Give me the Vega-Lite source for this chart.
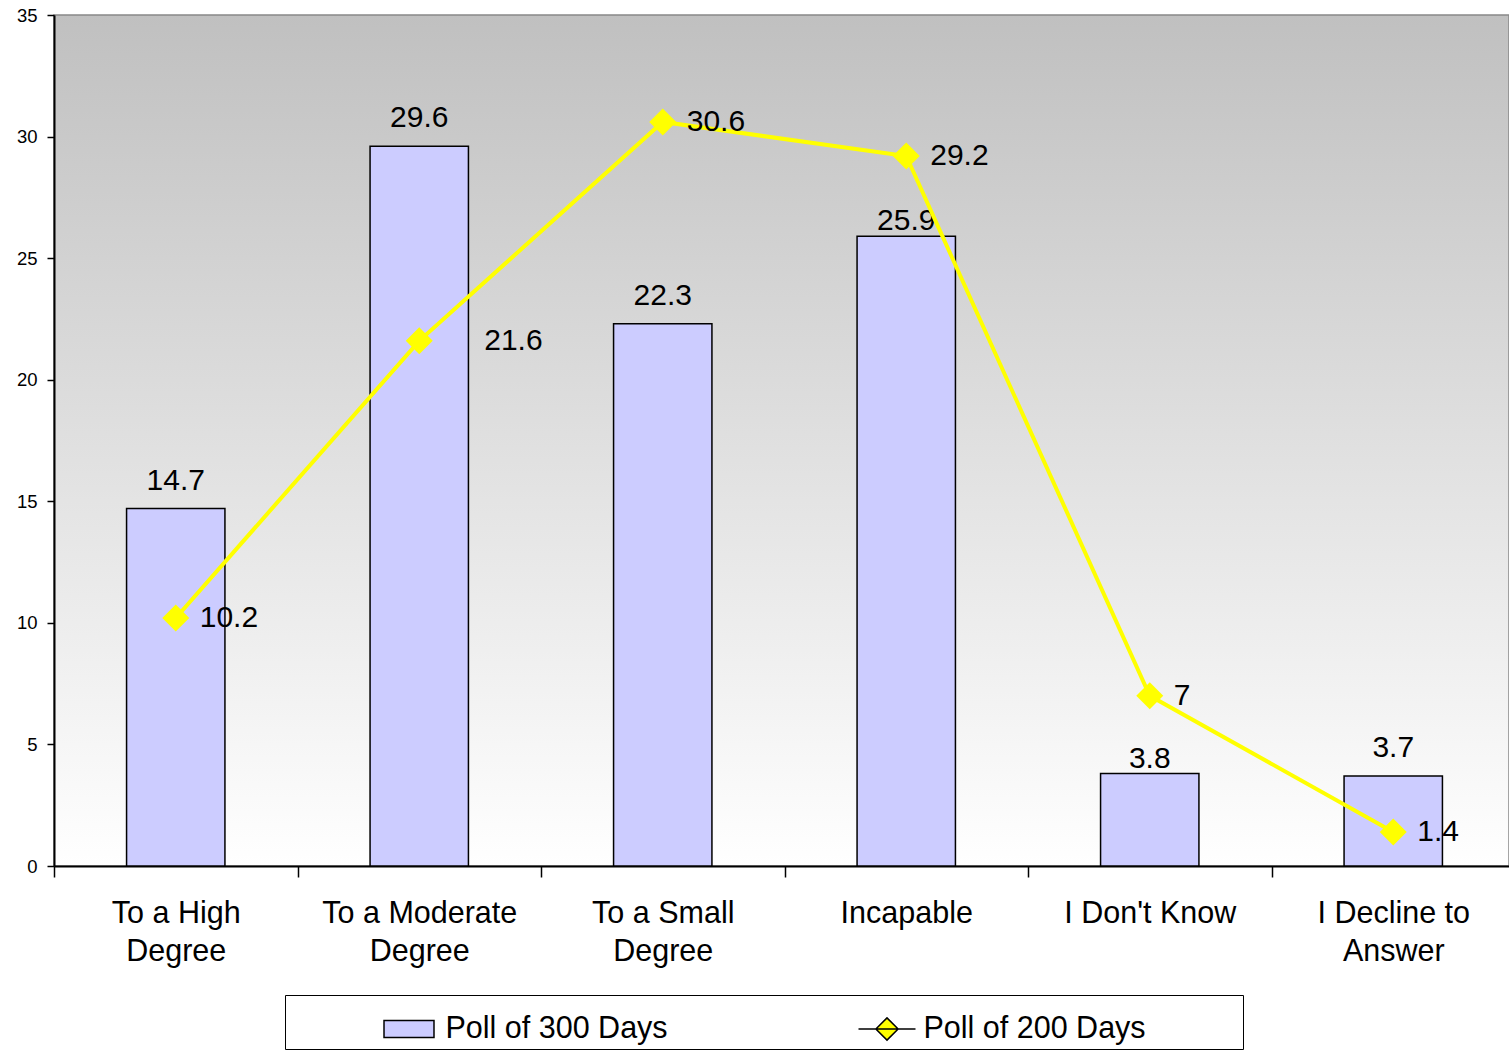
{
  "$schema": "https://vega.github.io/schema/vega-lite/v6.json",
  "autosize": "none",
  "width": 1455,
  "height": 851,
  "padding": {"left": 54, "top": 15, "right": 0, "bottom": 191},
  "background": "#ffffff",
  "config": {
    "font": "Liberation Sans",
    "view": {
      "stroke": "#888888",
      "strokeWidth": 1.5,
      "fill": {"gradient": "linear", "x1": 0, "y1": 0, "x2": 0, "y2": 1,
        "stops": [{"offset": 0, "color": "#c0c0c0"}, {"offset": 1, "color": "#ffffff"}]}
    },
    "axis": {"domainColor": "#000000", "domainWidth": 2, "tickColor": "#000000", "tickWidth": 1.5, "labelColor": "#000000", "labelFont": "Liberation Sans", "grid": false, "title": null}
  },
  "data": {"values": [
    {"category": "To a High Degree", "series": "Poll of 300 Days", "value": 14.7},
    {"category": "To a Moderate Degree", "series": "Poll of 300 Days", "value": 29.6},
    {"category": "To a Small Degree", "series": "Poll of 300 Days", "value": 22.3},
    {"category": "Incapable", "series": "Poll of 300 Days", "value": 25.9},
    {"category": "I Don't Know", "series": "Poll of 300 Days", "value": 3.8},
    {"category": "I Decline to Answer", "series": "Poll of 300 Days", "value": 3.7},
    {"category": "To a High Degree", "series": "Poll of 200 Days", "value": 10.2},
    {"category": "To a Moderate Degree", "series": "Poll of 200 Days", "value": 21.6},
    {"category": "To a Small Degree", "series": "Poll of 200 Days", "value": 30.6},
    {"category": "Incapable", "series": "Poll of 200 Days", "value": 29.2},
    {"category": "I Don't Know", "series": "Poll of 200 Days", "value": 7},
    {"category": "I Decline to Answer", "series": "Poll of 200 Days", "value": 1.4}
  ]},
  "encoding": {
    "x": {
      "field": "category", "type": "nominal", "sort": null,
      "scale": {"paddingInner": 0, "paddingOuter": 0, "range": [0, 1461]},
      "axis": {
        "labelAngle": 0, "labelFontSize": 30.5, "labelLineHeight": 38.5, "labelBaseline": "top",
        "tickSize": 11, "labelPadding": 21, "tickBand": "extent", "labelLimit": 0,
        "labelExpr": "datum.value === 'To a High Degree' ? ['To a High', 'Degree'] : datum.value === 'To a Moderate Degree' ? ['To a Moderate', 'Degree'] : datum.value === 'To a Small Degree' ? ['To a Small', 'Degree'] : datum.value === 'I Decline to Answer' ? ['I Decline to', 'Answer'] : datum.value"
      }
    },
    "y": {
      "field": "value", "type": "quantitative",
      "scale": {"domain": [0, 35], "nice": false, "zero": true},
      "axis": {"values": [0, 5, 10, 15, 20, 25, 30, 35], "labelFontSize": 18.5, "tickSize": 7, "labelPadding": 10}
    }
  },
  "layer": [
    {
      "transform": [{"filter": "datum.series === 'Poll of 300 Days'"}],
      "mark": {"type": "bar", "width": {"band": 0.404}, "stroke": "#000000", "strokeWidth": 1.5},
      "encoding": {
        "color": {
          "field": "series", "type": "nominal",
          "scale": {"domain": ["Poll of 300 Days", "Poll of 200 Days"], "range": ["#ccccff", "#ffff00"]},
          "legend": {
            "title": null, "orient": "none", "legendX": 231, "legendY": 980, "direction": "horizontal",
            "padding": 4.5, "symbolOffset": 90, "labelOffset": 7, "columnPadding": 99,
            "labelFontSize": 30.5, "labelFont": "Liberation Sans", "labelColor": "#000000", "labelLimit": 1000,
            "strokeColor": "#000000", "fillColor": "#ffffff",
            "symbolSize": 3249,
            "symbolType": {"expr": "datum.value === 'Poll of 300 Days' ? 'M-0.877,-0.3H0.877V0.3H-0.877Z' : 'M-1,0H1M-0.39,0L0,-0.39L0.39,0L0,0.39Z'"},
            "labelExpr": "datum.value === 'Poll of 200 Days' ? datum.label + '\u2800\u2800\u2800\u2800' : datum.label",
            "encode": {
              "legend": {"strokeWidth": {"value": 1.5}},
              "symbols": {
                "shape": {"value": {"expr": "datum.value === 'Poll of 300 Days' ? 'M-0.877,-0.3H0.877V0.3H-0.877Z' : 'M-1,0H1M-0.39,0L0,-0.39L0.39,0L0,0.39Z'"}},
                "stroke": {"value": {"expr": "datum.value === 'Poll of 300 Days' ? '#000000' : '#ffff00'"}},
                "strokeWidth": {"value": {"expr": "datum.value === 'Poll of 300 Days' ? 1.5 : 4"}},
                "opacity": {"value": 1},
                "fillOpacity": {"value": 1}
              }
            }
          }
        }
      }
    },
    {
      "transform": [{"filter": "datum.series === 'Poll of 300 Days' && datum.category !== 'Incapable' && datum.category !== \"I Don't Know\""}],
      "mark": {"type": "text", "dy": -19, "baseline": "alphabetic", "align": "center", "fontSize": 30, "color": "#000000"},
      "encoding": {"text": {"field": "value", "type": "quantitative"}}
    },
    {
      "transform": [{"filter": "datum.series === 'Poll of 300 Days' && (datum.category === 'Incapable' || datum.category === \"I Don't Know\")"}],
      "mark": {"type": "text", "dy": -6, "baseline": "alphabetic", "align": "center", "fontSize": 30, "color": "#000000"},
      "encoding": {"text": {"field": "value", "type": "quantitative"}}
    },
    {
      "transform": [{"filter": "datum.series === 'Poll of 200 Days'"}],
      "mark": {"type": "line", "strokeWidth": 4, "color": "#ffff00"},
      "encoding": {}
    },
    {
      "transform": [{"filter": "datum.series === 'Poll of 200 Days'"}],
      "mark": {"type": "point", "shape": "diamond", "filled": true, "size": 729, "color": "#ffff00", "opacity": 1}
    },
    {
      "transform": [{"filter": "datum.series === 'Poll of 200 Days' && datum.category !== 'To a Moderate Degree'"}],
      "mark": {"type": "text", "dx": 24, "align": "left", "baseline": "middle", "fontSize": 30, "color": "#000000"},
      "encoding": {"text": {"field": "value", "type": "quantitative"}}
    },
    {
      "transform": [{"filter": "datum.series === 'Poll of 200 Days' && datum.category === 'To a Moderate Degree'"}],
      "mark": {"type": "text", "dx": 65, "align": "left", "baseline": "middle", "fontSize": 30, "color": "#000000"},
      "encoding": {"text": {"field": "value", "type": "quantitative"}}
    }
  ]
}
